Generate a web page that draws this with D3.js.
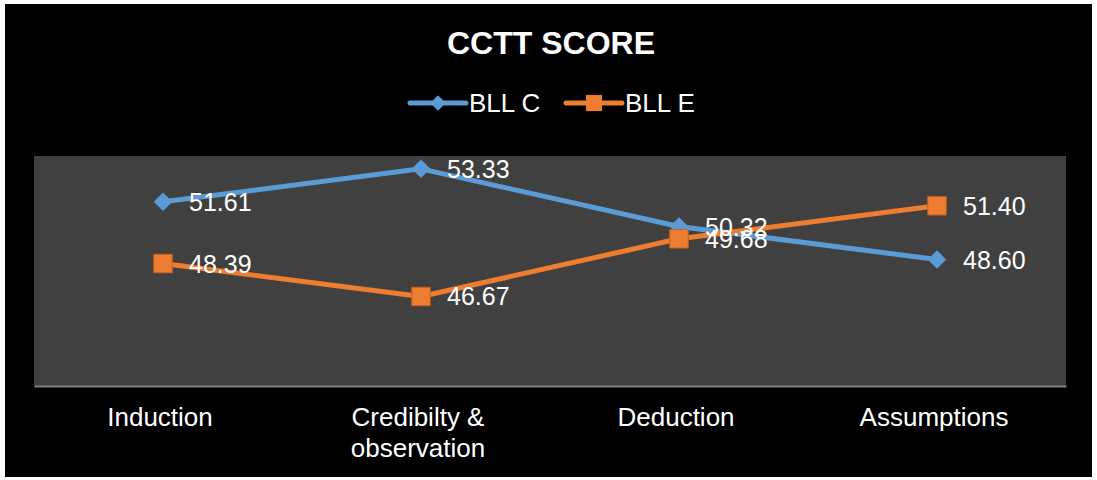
<!DOCTYPE html>
<html>
<head>
<meta charset="utf-8">
<script src="https://cdn.jsdelivr.net/npm/d3@7"></script>
<style>
  html, body { margin: 0; padding: 0; background: #fff; }
  svg { display: block; font-family: "Liberation Sans", Arial, sans-serif; }
</style>
</head>
<body>
<div id="chart"></div>
<script>
// chart data
const categories = ["Induction", "Credibilty & observation", "Deduction", "Assumptions"];
const seriesNames = ["BLL C", "BLL E"];
const bllC = [51.61, 53.33, 50.32, 48.60];
const bllE = [48.39, 46.67, 49.68, 51.40];
const yDomain = [42, 54];

const WIDTH = 1097;
const HEIGHT = 480;
const PLOT = { left: 34, right: 1066, top: 156, bottom: 386 };
const COLORS = ["#5B9BD5", "#ED7D31"];

const svg = d3.select("#chart").append("svg")
    .attr("width", WIDTH)
    .attr("height", HEIGHT);

// white frame + black chart area
svg.append("rect").attr("width", WIDTH).attr("height", HEIGHT).attr("fill", "#fff");
svg.append("rect")
    .attr("x", 5).attr("y", 4)
    .attr("width", 1087).attr("height", 473)
    .attr("fill", "#000");

// plot area
svg.append("rect")
    .attr("x", PLOT.left).attr("y", PLOT.top)
    .attr("width", PLOT.right - PLOT.left)
    .attr("height", PLOT.bottom - PLOT.top)
    .attr("fill", "#404040");

const x = d3.scaleBand()
    .domain(categories)
    .range([PLOT.left, PLOT.right]);

const y = d3.scaleLinear()
    .domain(yDomain)
    .range([PLOT.bottom, PLOT.top]);

// x axis
const xAxis = svg.append("g")
    .attr("transform", `translate(0, ${PLOT.bottom})`)
    .call(d3.axisBottom(x).tickSize(0).tickPadding(0));

xAxis.select(".domain").attr("stroke", "#7f7f7f").attr("stroke-width", 2);
xAxis.selectAll(".tick text").remove();

xAxis.selectAll(".tick").each(function(d) {
    const lines = d === "Credibilty & observation" ? ["Credibilty &", "observation"] : [d];
    const t = d3.select(this).append("text")
        .attr("text-anchor", "middle")
        .attr("fill", "#fff")
        .attr("font-size", "26px")
        .attr("y", 40);
    lines.forEach((ln, i) => {
        t.append("tspan").attr("x", -3).attr("dy", i === 0 ? 0 : 31).text(ln);
    });
});

// title
svg.append("text")
    .attr("x", 551)
    .attr("y", 54)
    .attr("text-anchor", "middle")
    .attr("fill", "#fff")
    .attr("font-size", "32px")
    .attr("font-weight", "bold")
    .text("CCTT SCORE");

const line = d3.line()
    .x((d, i) => x(categories[i]) + x.bandwidth() / 2)
    .y(d => y(d));

const series = [bllC, bllE];

series.forEach((vals, s) => {
    svg.append("path")
        .datum(vals)
        .attr("fill", "none")
        .attr("stroke", COLORS[s])
        .attr("stroke-width", 5)
        .attr("stroke-linejoin", "round")
        .attr("d", line);

    // markers: diamond for BLL C, square for BLL E
    svg.selectAll(".marker-" + s)
        .data(vals)
        .enter()
        .append("path")
        .attr("class", "marker-" + s)
        .attr("transform", (d, i) => {
            let tr = `translate(${x(categories[i]) + x.bandwidth() / 2}, ${y(d)})`;
            if (s === 0) tr += " rotate(45)";
            return tr;
        })
        .attr("d", d3.symbol().type(d3.symbolSquare).size(s === 0 ? 170 : 340)())
        .attr("fill", COLORS[s])
        .attr("stroke", s === 0 ? "none" : "#c8601f")
        .attr("stroke-width", 1);
});

// data labels
series.forEach((vals, s) => {
    svg.selectAll(".label-" + s)
        .data(vals)
        .enter()
        .append("text")
        .attr("x", (d, i) => x(categories[i]) + x.bandwidth() / 2 + 26)
        .attr("y", d => y(d) + 9)
        .attr("fill", "#fff")
        .attr("font-size", "25px")
        .text(d => d.toFixed(2));
});

// legend
const legendItems = [
    { name: seriesNames[0], x0: 410 },
    { name: seriesNames[1], x0: 566 }
];

legendItems.forEach((item, s) => {
    const g = svg.append("g").attr("transform", `translate(${item.x0}, 103)`);
    g.append("line")
        .attr("x1", 0).attr("x2", 56)
        .attr("stroke", COLORS[s])
        .attr("stroke-width", 5)
        .attr("stroke-linecap", "round");
    g.append("path")
        .attr("transform", s === 0 ? "translate(28,0) rotate(45)" : "translate(28,0)")
        .attr("d", d3.symbol().type(d3.symbolSquare).size(s === 0 ? 120 : 260)())
        .attr("fill", COLORS[s]);
    g.append("text")
        .attr("x", 59)
        .attr("y", 9)
        .attr("fill", "#fff")
        .attr("font-size", "26px")
        .text(item.name);
});
</script>
</body>
</html>
